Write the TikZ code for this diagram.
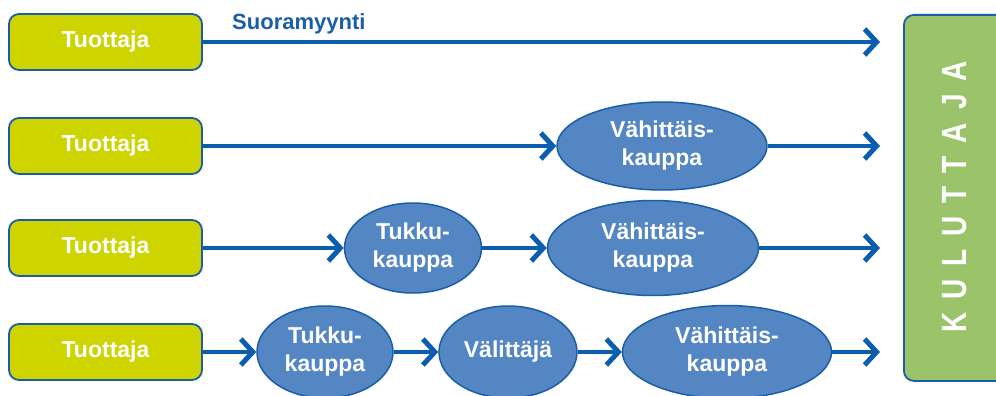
\documentclass[tikz,border=0pt]{standalone}
\usepackage{fontspec}
\setmainfont{Liberation Sans}
\usetikzlibrary{shapes.geometric,arrows.meta}
\definecolor{lineblue}{HTML}{0B5EAD}
\definecolor{edgeblue}{HTML}{1A5EA8}
\definecolor{ellfill}{HTML}{5386C2}
\definecolor{prodfill}{HTML}{CDD400}
\definecolor{consfill}{HTML}{9BC46A}
\tikzset{
  prod/.style={draw=edgeblue, line width=1.8pt, fill=prodfill, rounded corners=10pt,
    minimum width=193pt, minimum height=56pt, text=white, font=\bfseries\fontsize{23}{27}\selectfont},
  stage/.style={ellipse, draw=edgeblue, line width=1.5pt, fill=ellfill, inner sep=0pt,
    text=white, align=center, font=\bfseries\fontsize{23}{28}\selectfont},
  arr/.style={draw=lineblue, line width=4pt,
    -{Straight Barb[length=12pt,width=26pt,line width=5pt]}},
}
\begin{document}
\begin{tikzpicture}[x=1pt,y=-1pt]
\useasboundingbox (0,0) rectangle (996,396);
% consumer
\node[draw=edgeblue, line width=1.8pt, fill=consfill, rounded corners=10pt,
  minimum width=110pt, minimum height=366pt, anchor=north west] (k) at (903,14) {};
\node[rotate=90, text=white, font=\bfseries\fontsize{28}{30}\selectfont] (kt) at (955,197)
  {\scalebox{1}[1.25]{K\kern13pt U\kern13pt L\kern13pt U\kern13pt T\kern13pt T\kern13pt A\kern13pt J\kern13pt A}};
% producers
\node[prod] (t1) at (105.5,42) {Tuottaja};
\node[prod] (t2) at (105.5,146) {Tuottaja};
\node[prod] (t3) at (105.5,248) {Tuottaja};
\node[prod] (t4) at (105.5,352) {Tuottaja};
% stages
\node[stage, minimum width=210pt, minimum height=88pt] (v2) at (662,146) {Vähittäis-\\kauppa};
\node[stage, minimum width=137pt, minimum height=90pt] (u3) at (413,248) {Tukku-\\kauppa};
\node[stage, minimum width=211pt, minimum height=95pt] (v3) at (653,248) {Vähittäis-\\kauppa};
\node[stage, minimum width=136pt, minimum height=92pt] (u4) at (325,352) {Tukku-\\kauppa};
\node[stage, minimum width=138pt, minimum height=92pt] (w4) at (508,352) {Välittäjä};
\node[stage, minimum width=209pt, minimum height=93pt] (v4) at (727,352) {Vähittäis-\\kauppa};
% end points
\coordinate (e1) at (880,42);
\coordinate (e2) at (880,146);
\coordinate (e3) at (880,248);
\coordinate (e4) at (880,352);
% label
\node[text=edgeblue, font=\bfseries\fontsize{22}{24}\selectfont, anchor=base west, inner sep=0pt] (s) at (232,30) {Suoramyynti};
% connectors
\draw[arr] (t1.east) -- (e1);
\draw[arr] (t2.east) -- (v2.west);
\draw[arr] (v2.east) -- (e2);
\draw[arr] (t3.east) -- (u3.west);
\draw[arr] (u3.east) -- (v3.west);
\draw[arr] (v3.east) -- (e3);
\draw[arr] (t4.east) -- (u4.west);
\draw[arr] (u4.east) -- (w4.west);
\draw[arr] (w4.east) -- (v4.west);
\draw[arr] (v4.east) -- (e4);
\end{tikzpicture}
\end{document}
